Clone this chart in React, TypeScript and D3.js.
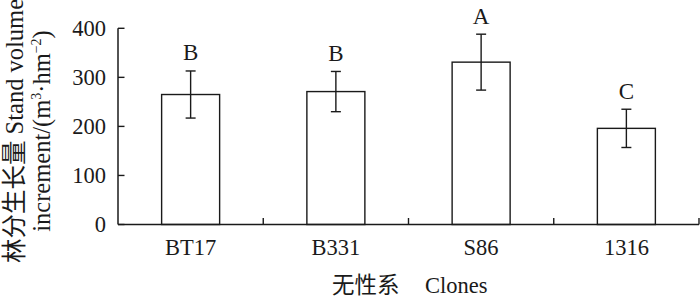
import React from "react";
import * as d3 from "d3";

const categories = ["BT17", "B331", "S86", "1316"];
const means = [265, 271, 331, 196];
const errors = [48, 41, 57, 39];
const letters = ["B", "B", "A", "C"];
const yTicks = [0, 100, 200, 300, 400];

const W = 700;
const H = 301;
const left = 118;
const right = 699;
const top = 28.3;
const bottom = 224.5;
const FONT = "'Liberation Serif', 'Times New Roman', 'Noto Sans CJK SC', serif";

export default function App() {
  const x = d3.scaleBand<string>().domain(categories).range([left, right]).paddingInner(0).paddingOuter(0);
  const y = d3.scaleLinear().domain([0, 400]).range([bottom, top]);
  const barW = 58;
  const boundaries = categories.map((c) => (x(c) as number) + x.bandwidth());

  return (
    <svg width={W} height={H} style={{ position: "absolute", left: 0, top: 0, background: "#fff" }} fontFamily={FONT}>
      <rect x={0} y={0} width={W} height={H} fill="#fff" />
      {categories.map((c, i) => {
        const cx = (x(c) as number) + x.bandwidth() / 2;
        const yt = y(means[i] + errors[i]);
        const yb = y(means[i] - errors[i]);
        return (
          <g key={c}>
            <rect x={cx - barW / 2} y={y(means[i])} width={barW} height={bottom - y(means[i])} fill="#fff" stroke="#1a1a1a" strokeWidth={1.4} />
            <line x1={cx} x2={cx} y1={yt} y2={yb} stroke="#1a1a1a" strokeWidth={1.4} />
            <line x1={cx - 5} x2={cx + 5} y1={yt} y2={yt} stroke="#1a1a1a" strokeWidth={1.4} />
            <line x1={cx - 5} x2={cx + 5} y1={yb} y2={yb} stroke="#1a1a1a" strokeWidth={1.4} />
            <text x={cx} y={yt - 10.5} textAnchor="middle" fontSize={23} fill="#1a1a1a">{letters[i]}</text>
            <text x={cx} y={255} textAnchor="middle" fontSize={22.5} fill="#1a1a1a">{c}</text>
          </g>
        );
      })}
      <line x1={left} x2={left} y1={top} y2={bottom} stroke="#1a1a1a" strokeWidth={1.5} />
      {yTicks.map((t) => (
        <g key={t}>
          <line x1={left} x2={left + 6.5} y1={y(t)} y2={y(t)} stroke="#1a1a1a" strokeWidth={1.4} />
          <text x={106} y={y(t)} dy="0.35em" textAnchor="end" fontSize={22.5} fill="#1a1a1a">{t}</text>
        </g>
      ))}
      <line x1={left} x2={right} y1={bottom} y2={bottom} stroke="#1a1a1a" strokeWidth={1.5} />
      {boundaries.map((b, i) => (
        <line key={i} x1={b} x2={b} y1={bottom} y2={bottom - 6.5} stroke="#1a1a1a" strokeWidth={1.4} />
      ))}
      <text x={332} y={293} textAnchor="start" fontSize={22.5} fill="#1a1a1a">无性系</text>
      <text x={425} y={293} textAnchor="start" fontSize={22.5} fill="#1a1a1a">Clones</text>
      <g transform="translate(23,131) rotate(-90)">
        <text x={0} y={0} textAnchor="middle" fontSize={24.5} fill="#1a1a1a">林分生长量 Stand volume</text>
        <text x={0} y={27} textAnchor="middle" fontSize={24.5} fill="#1a1a1a">
          <tspan>increment/(m</tspan>
          <tspan fontSize={14} dy={-9}>3</tspan>
          <tspan dy={9}>·hm</tspan>
          <tspan fontSize={14} dy={-9}>−2</tspan>
          <tspan dy={9}>)</tspan>
        </text>
      </g>
    </svg>
  );
}
